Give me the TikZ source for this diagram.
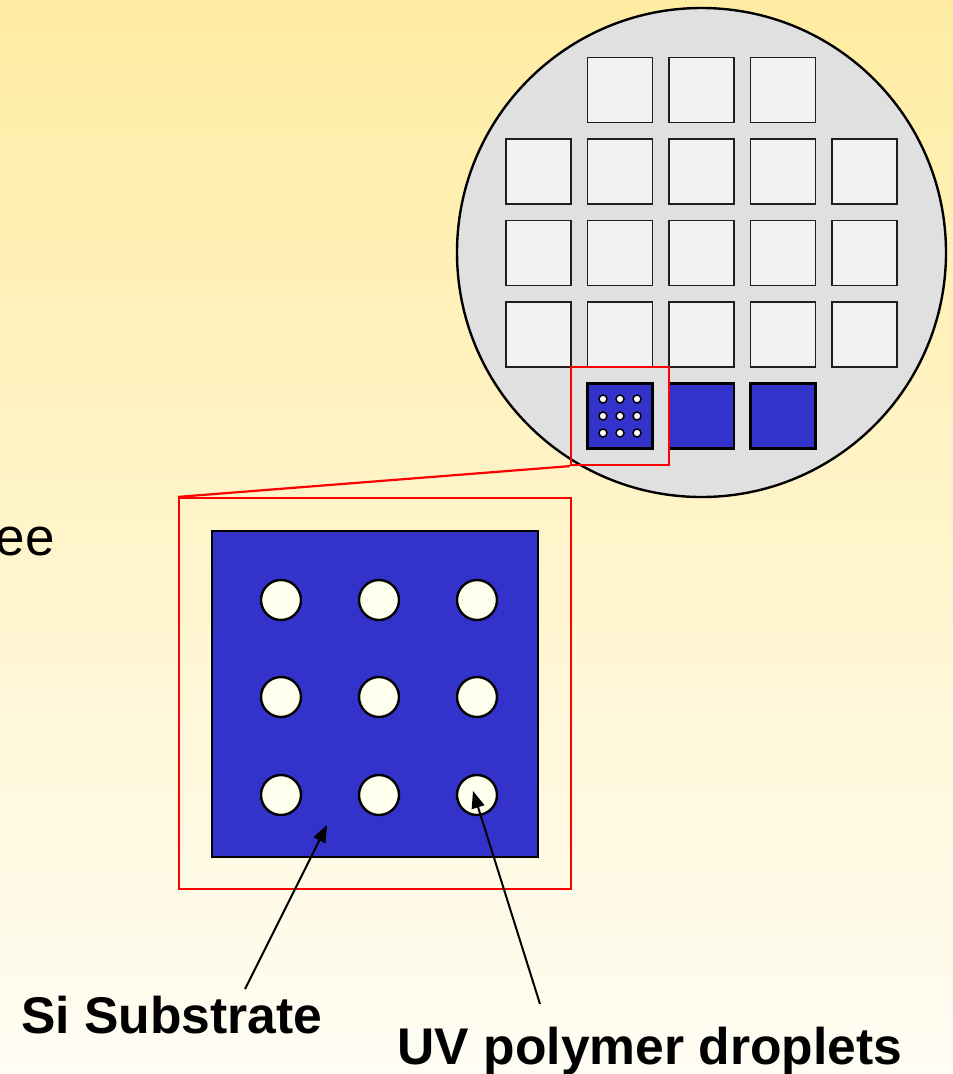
\documentclass[tikz,border=0pt]{standalone}
\usepackage{fontspec}
\setmainfont{Liberation Sans}
\usetikzlibrary{arrows.meta}
\definecolor{bgtop}{RGB}{255,236,162}
\definecolor{bgbot}{RGB}{255,253,244}
\definecolor{wafer}{RGB}{224,224,224}
\definecolor{die}{RGB}{242,242,242}
\definecolor{dieline}{RGB}{30,30,30}
\definecolor{siblue}{RGB}{51,51,204}
\definecolor{drop}{RGB}{255,255,238}
\tikzset{
  diebox/.style={draw=dieline, fill=die, line width=1.8pt, minimum size=65pt, inner sep=0pt, rectangle},
  bluebox/.style={draw=black, fill=siblue, line width=2.4pt, inner sep=0pt, rectangle},
  redbox/.style={draw=red, line width=2.2pt, inner sep=0pt, rectangle},
  smalldot/.style={circle, draw=black, fill=white, line width=1.5pt, minimum size=8pt, inner sep=0pt},
  bigdrop/.style={circle, draw=black, fill=drop, line width=2.4pt, minimum size=40pt, inner sep=0pt},
  lbl/.style={font=\fontsize{51.6}{60}\selectfont\bfseries, inner sep=0pt, anchor=base},
  ptr/.style={draw=black, line width=2pt, -{Triangle[length=17pt,width=13pt]}}
}
\begin{document}
\begin{tikzpicture}[x=1pt,y=-1pt]
\useasboundingbox (0,0) rectangle (953,1074);
\shade[top color=bgtop, bottom color=bgbot] (0,0) rectangle (953,1074);
% text fragment at left
\node[font=\fontsize{53}{60}\selectfont, inner sep=0pt, anchor=base east] (frag) at (55,555) {ee};
% wafer
\node[circle, draw=black, fill=wafer, line width=2.4pt, minimum size=489pt, inner sep=0pt] (wafer) at (701.5,252.5) {};
% dies
\foreach \i in {1,2,3} {
  \node[diebox] (d0\i) at ({538.5+81.5*\i},90) {};
}
\foreach \j in {1,2,3} {
  \foreach \i in {0,...,4} {
    \node[diebox] (d\j\i) at ({538.5+81.5*\i},{90+81.5*\j}) {};
  }
}
\node[bluebox, minimum size=65pt] (b1) at (620,416) {};
\node[bluebox, minimum size=65pt] (b2) at (701.5,416) {};
\node[bluebox, minimum size=65pt] (b3) at (783,416) {};
\foreach \dx in {-17,0,17} {
  \foreach \dy in {-17,0,17} {
    \node[smalldot] at ({620+\dx},{416+\dy}) {};
  }
}
% small red box
\node[redbox, minimum width=98pt, minimum height=98pt] (zoomsrc) at (620,416) {};
% big red box
\node[redbox, minimum width=392pt, minimum height=391pt] (zoombig) at (375,693.5) {};
\draw[red, line width=2.2pt] (zoombig.north west) -- (zoomsrc.south west);
% big substrate
\node[bluebox, minimum size=326pt] (sub) at (375,694) {};
\foreach \x/\n in {281/a,379/b,477/c} {
  \foreach \y/\m in {600/1,697/2,795/3} {
    \node[bigdrop] (dr\n\m) at (\x,\y) {};
  }
}
% labels
\node[lbl] (si) at (172,1033) {Si Substrate};
\node[lbl] (uv) at (650,1064) {UV polymer droplets};
\coordinate (siTail) at (245,989);
\coordinate (siTip) at (327,825);
\coordinate (uvTail) at (540,1004);
\coordinate (uvTip) at (473,791);
\draw[ptr] (siTail) -- (siTip);
\draw[ptr] (uvTail) -- (uvTip);
\end{tikzpicture}
\end{document}
